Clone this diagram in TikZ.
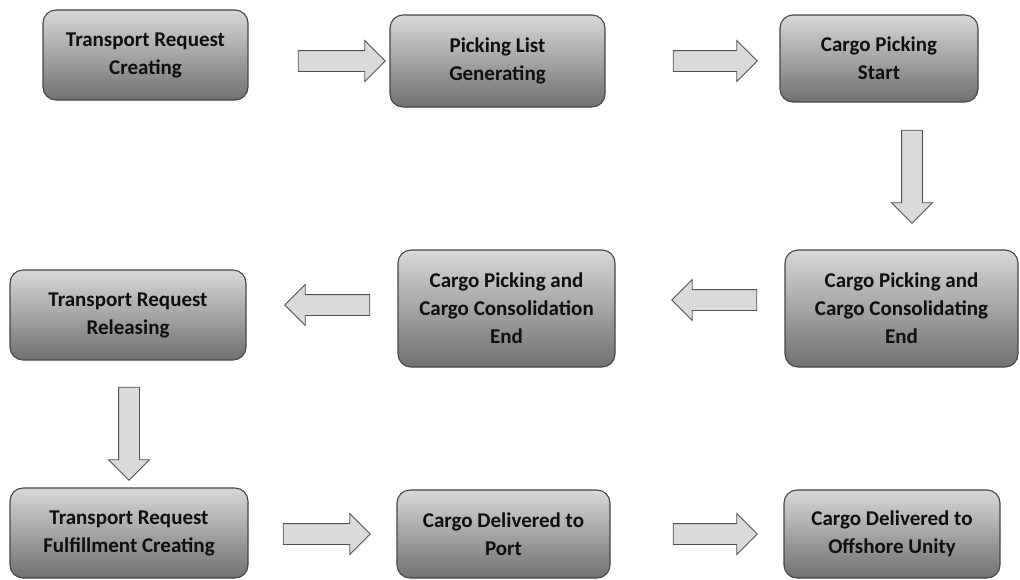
\documentclass[tikz,border=0pt]{standalone}
\usepackage{fontspec}
\setmainfont{Carlito}
\usetikzlibrary{shapes.arrows}
\definecolor{boxtop}{RGB}{216,216,216}
\definecolor{boxbot}{RGB}{112,112,112}
\definecolor{boxedge}{RGB}{70,70,70}
\definecolor{arrfill}{RGB}{218,218,218}
\definecolor{arredge}{RGB}{80,80,80}
\definecolor{txt}{RGB}{15,15,15}
\tikzset{
  stagebox/.style={rounded corners=13pt, draw=boxedge, line width=1.1pt,
    top color=boxtop, bottom color=boxbot, align=center, text=txt,
    font=\fontsize{21}{28}\selectfont\bfseries, inner sep=0pt},
  blockarrow/.style={single arrow, draw=arredge, fill=arrfill, line width=0.9pt,
    inner sep=10pt, single arrow head extend=10pt,
    single arrow tip angle=90, anchor=center}
}
\begin{document}
\begin{tikzpicture}[x=1pt,y=-1pt]
\useasboundingbox (0,0) rectangle (1020,579);
\fill[white] (0,0) rectangle (1020,579);
% boxes
\node[stagebox, minimum width=205pt, minimum height=90pt] (b1) at (145.5,55) {Transport Request\\Creating};
\node[stagebox, minimum width=215pt, minimum height=92pt] (b2) at (497.5,61) {Picking List\\Generating};
\node[stagebox, minimum width=198pt, minimum height=87pt] (b3) at (879,58.5) {Cargo Picking\\Start};
\node[stagebox, minimum width=233pt, minimum height=117pt] (b4) at (901.5,308.5) {Cargo Picking and\\Cargo Consolidating\\End};
\node[stagebox, minimum width=217pt, minimum height=117pt] (b5) at (506.5,308.5) {Cargo Picking and\\Cargo Consolidation\\End};
\node[stagebox, minimum width=236pt, minimum height=90pt] (b6) at (128,315) {Transport Request\\Releasing};
\node[stagebox, minimum width=238pt, minimum height=90pt] (b7) at (129,533) {Transport Request\\Fulfillment Creating};
\node[stagebox, minimum width=213pt, minimum height=88pt] (b8) at (503.5,534) {Cargo Delivered to\\Port};
\node[stagebox, minimum width=216pt, minimum height=88pt] (b9) at (892,534) {Cargo Delivered to\\Offshore Unity};
% block arrows
\node[blockarrow, minimum height=87pt] (a1) at (336.5,61) {};
\node[blockarrow, minimum height=84pt] (a2) at (710,61) {};
\node[blockarrow, minimum height=93pt, shape border rotate=270] (a3) at (912,171.5) {};
\node[blockarrow, minimum height=85pt, shape border rotate=180] (a4) at (719.5,300) {};
\node[blockarrow, minimum height=85pt, shape border rotate=180] (a5) at (332.5,305) {};
\node[blockarrow, minimum height=93pt, shape border rotate=270] (a6) at (129,428.5) {};
\node[blockarrow, minimum height=87pt] (a7) at (321.5,534) {};
\node[blockarrow, minimum height=84pt] (a8) at (710,534) {};
\end{tikzpicture}
\end{document}
